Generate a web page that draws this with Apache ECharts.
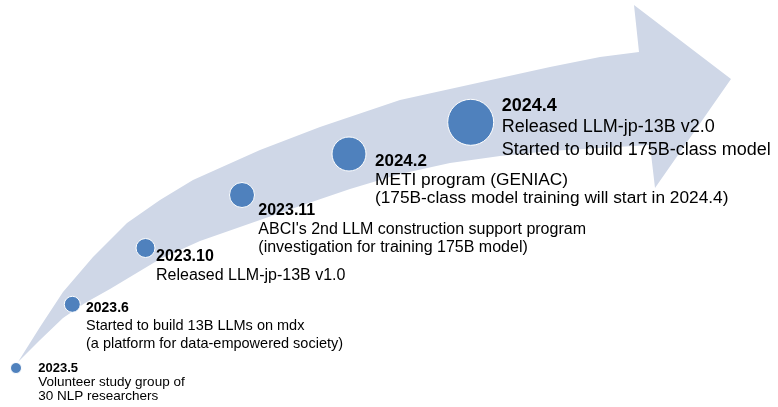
<!DOCTYPE html>
<html>
<head>
<meta charset="utf-8">
<script src="https://cdn.jsdelivr.net/npm/echarts@6/dist/echarts.min.js"></script>
<style>
  html, body { margin: 0; padding: 0; background: #fff; }
  #chart { width: 778px; height: 407px; }
</style>
</head>
<body>
<div id="chart"></div>
<script>
// milestones
var dates = ['2023.5', '2023.6', '2023.10', '2023.11', '2024.2', '2024.4'];
var descriptions = [
  ['Volunteer study group of', '30 NLP researchers'],
  ['Started to build 13B LLMs on mdx', '(a platform for data-empowered society)'],
  ['Released LLM-jp-13B v1.0'],
  ["ABCI's 2nd LLM construction support program", '(investigation for training 175B model)'],
  ['METI program (GENIAC)', '(175B-class model training will start in 2024.4)'],
  ['Released LLM-jp-13B v2.0', 'Started to build 175B-class model']
];
var dotX = [16, 72.3, 145.5, 242, 349, 470.7];
var dotY = [368, 304.3, 248, 195, 154, 122.3];
var dotSize = [11, 16, 19, 25, 34, 46];

// curved arrow outline (chart units = pixels of the hidden axes)
var bandUpper = [[18, 362], [40, 327], [63, 292], [93, 257], [127, 223], [160, 200], [193, 180],
  [260, 150], [320, 127], [400, 100], [450, 89], [500, 78], [550, 67], [600, 57], [639, 52]];
var arrowHead = [[634, 5], [731, 79], [655, 188], [650, 145]];
var bandLower = [[18, 362], [40, 340], [63, 318], [85, 303], [110, 289], [130, 277], [160, 259],
  [200, 241], [260, 220], [300, 206], [350, 189], [400, 174], [450, 163], [500, 156],
  [550, 151], [600, 148]];

// label layout
var labelDx = [22.3, 13.7, 10.5, 16.3, 26, 31];
var labelDy = [-7.5, -4.6, -0.5, 6.5, -1.4, -24.7];
var dateFont = [13, 14, 16, 16, 17, 18];
var textFont = [13.5, 14.5, 16, 16, 17.3, 18];
var dateLH = [15.5, 17.3, 19, 18.5, 18.1, 17.7];
var textLH = [13.5, 17.9, 19, 18.3, 18.5, 23.3];

var FONT = 'Arial, "Liberation Sans", sans-serif';

var outline = bandUpper.concat(arrowHead, bandLower.slice().reverse());

var dots = dates.map(function (d, i) {
  return [dotX[i], dotY[i], dotSize[i]];
});

var chart = echarts.init(document.getElementById('chart'));
chart.setOption({
  animation: false,
  grid: { left: 0, right: 0, top: 0, bottom: 0 },
  xAxis: { type: 'value', min: 0, max: 778, show: false },
  yAxis: { type: 'value', min: 0, max: 407, inverse: true, show: false },
  series: [
    {
      type: 'custom',
      silent: true,
      data: [0],
      renderItem: function (params, api) {
        var pts = outline.map(function (p) { return api.coord(p); });
        return {
          type: 'polygon',
          shape: { points: pts },
          style: { fill: '#CFD7E7' }
        };
      },
      z: 1
    },
    {
      type: 'scatter',
      silent: true,
      data: dots,
      symbolSize: function (v) { return v[2]; },
      itemStyle: { color: '#4F81BD', borderColor: '#fff', borderWidth: 1, opacity: 1 },
      z: 2
    },
    {
      type: 'custom',
      silent: true,
      data: dots,
      renderItem: function (params, api) {
        var i = params.dataIndex;
        var p = api.coord([api.value(0), api.value(1)]);
        var txt = '{d|' + dates[i] + '}';
        descriptions[i].forEach(function (line) {
          txt += '\n{t|' + line + '}';
        });
        return {
          type: 'text',
          x: p[0] + labelDx[i],
          y: p[1] + labelDy[i],
          style: {
            text: txt,
            align: 'left',
            verticalAlign: 'top',
            fill: '#000',
            fontFamily: FONT,
            rich: {
              d: { fontFamily: FONT, fontWeight: 'bold', fontSize: dateFont[i], lineHeight: dateLH[i], fill: '#000' },
              t: { fontFamily: FONT, fontSize: textFont[i], lineHeight: textLH[i], fill: '#000' }
            }
          }
        };
      },
      z: 3
    }
  ]
});
</script>
</body>
</html>
